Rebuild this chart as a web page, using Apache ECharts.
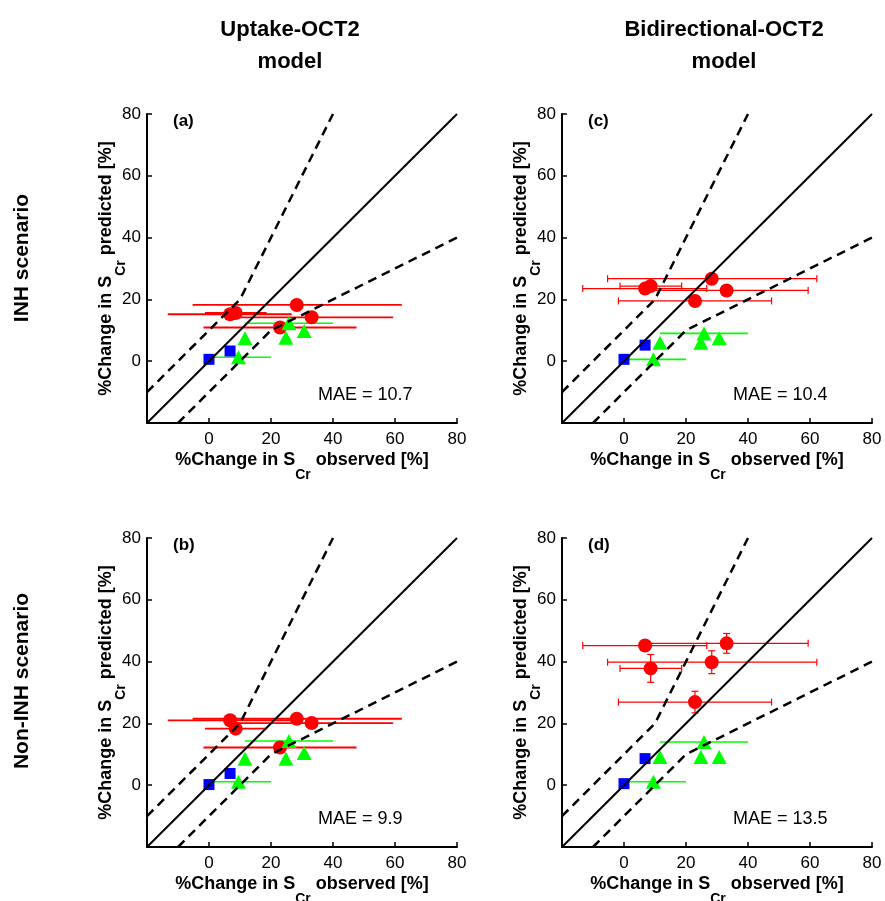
<!DOCTYPE html>
<html><head><meta charset="utf-8">
<script src="https://cdn.jsdelivr.net/npm/echarts@6/dist/echarts.min.js"></script>
<style>html,body{margin:0;padding:0;background:#fff}#c{width:885px;height:901px}</style>
</head><body><div id="c"></div>
<script>
// ---- Data ----
const tickValues = [-20, 0, 20, 40, 60, 80];
const panelLabels = ['(a)', '(b)', '(c)', '(d)'];
const maeLabels = ['MAE = 10.7', 'MAE = 9.9', 'MAE = 10.4', 'MAE = 13.5'];
const columnTitles = ['Uptake-OCT2\nmodel', 'Bidirectional-OCT2\nmodel'];
const rowTitles = ['INH scenario', 'Non-INH scenario'];

// observed (x) values, shared by all panels
const redObsX  = [6.8, 8.6, 22.9, 28.3, 33.1];
const redObsLo = [-13.3, -1.3, -1.8, -5.3, 6.8];
const redObsHi = [26.7, 18.6, 47.6, 62.2, 59.4];
const greenObsX  = [9.5, 11.6, 24.8, 25.8, 30.7];
const greenObsLo = [1.5, 11.6, 24.8, 11.6, 30.7];
const greenObsHi = [20.0, 11.6, 24.8, 40.0, 30.7];
const blueObsX = [0.0, 6.8];

// predicted (y) values per panel a, b, c, d
const redPredA = [15.2, 15.6, 10.9, 18.2, 14.2];
const redPredB = [21.0, 18.3, 12.2, 21.5, 20.1];
const redPredC = [23.5, 24.3, 19.5, 26.7, 22.9];
const redPredD = [45.2, 37.8, 26.9, 39.8, 45.9];
const redPredErrA = [0, 0, 0, 0, 0];
const redPredErrB = [0, 0, 0, 0, 0];
const redPredErrC = [0, 0, 0, 0, 0];
const redPredErrD = [0, 4.5, 3.5, 3.7, 3.2];
const greenPredA = [1.3, 7.4, 7.6, 12.3, 9.8];
const greenPredB = [1.1, 8.6, 8.6, 14.3, 10.4];
const greenPredC = [0.6, 6.0, 6.0, 9.0, 7.4];
const greenPredD = [1.1, 9.1, 9.1, 14.0, 9.1];
const bluePredA = [0.6, 3.3];
const bluePredB = [0.2, 3.8];
const bluePredC = [0.6, 5.2];
const bluePredD = [0.5, 8.6];

// reference lines: identity and limits
const identityLine = [[-20, -20], [80, 80]];
const upperLimit = [[-20, -10], [10, 20], [40, 80]];
const lowerLimit = [[-10, -20], [20, 10], [80, 40]];

// ---- Build chart ----
const FONT = '"Liberation Sans", Arial, Helvetica, sans-serif';
const redPred = [redPredA, redPredB, redPredC, redPredD];
const redPredErr = [redPredErrA, redPredErrB, redPredErrC, redPredErrD];
const greenPred = [greenPredA, greenPredB, greenPredC, greenPredD];
const bluePred = [bluePredA, bluePredB, bluePredC, bluePredD];

const gridBoxes = [
  {left: 147, top: 114, width: 310, height: 309},
  {left: 147, top: 538, width: 310, height: 309},
  {left: 562, top: 114, width: 310, height: 309},
  {left: 562, top: 538, width: 310, height: 309}
];
const barStyle = [
  {w: 1.8, cap: 0}, {w: 1.8, cap: 0}, {w: 1.2, cap: 3.5}, {w: 1.2, cap: 3.5}
];

const richName = {
  b: {fontSize: 18, fontWeight: 'bold', fontFamily: FONT, color: '#000'},
  s: {fontSize: 14, fontWeight: 'bold', fontFamily: FONT, color: '#000', padding: [30, 0, 0, 0]}
};

function axisCommon() {
  return {
    type: 'value', min: tickValues[0], max: tickValues[tickValues.length - 1], interval: 20,
    axisLine: {show: true, onZero: false, lineStyle: {color: '#000', width: 2}},
    axisTick: {show: true, inside: true, length: 5, lineStyle: {color: '#000', width: 1.5}},
    splitLine: {show: false},
    nameLocation: 'middle',
    nameMoveOverlap: false,
    nameTextStyle: {rich: richName}
  };
}

function errItem(color, lw, cap) {
  return function (params, api) {
    const x = api.value(0), y = api.value(1), lo = api.value(2), hi = api.value(3), ye = api.value(4);
    const st = {stroke: color, lineWidth: lw, fill: null};
    const ch = [];
    if (hi > lo) {
      const p1 = api.coord([lo, y]), p2 = api.coord([hi, y]);
      ch.push({type: 'line', shape: {x1: p1[0], y1: p1[1], x2: p2[0], y2: p2[1]}, style: st});
      if (cap > 0) {
        ch.push({type: 'line', shape: {x1: p1[0], y1: p1[1] - cap, x2: p1[0], y2: p1[1] + cap}, style: st});
        ch.push({type: 'line', shape: {x1: p2[0], y1: p2[1] - cap, x2: p2[0], y2: p2[1] + cap}, style: st});
      }
    }
    if (ye > 0) {
      const t = api.coord([x, y + ye]), b = api.coord([x, y - ye]);
      ch.push({type: 'line', shape: {x1: t[0], y1: t[1], x2: b[0], y2: b[1]}, style: st});
      ch.push({type: 'line', shape: {x1: t[0] - cap, y1: t[1], x2: t[0] + cap, y2: t[1]}, style: st});
      ch.push({type: 'line', shape: {x1: b[0] - cap, y1: b[1], x2: b[0] + cap, y2: b[1]}, style: st});
    }
    return {type: 'group', children: ch};
  };
}

const grids = [], xAxes = [], yAxes = [], series = [], graphics = [];
for (let i = 0; i < 4; i++) {
  grids.push(Object.assign({outerBoundsMode: 'none', containLabel: false}, gridBoxes[i]));
  xAxes.push(Object.assign(axisCommon(), {
    gridIndex: i,
    axisLabel: {color: '#000', fontSize: 17, fontFamily: FONT, margin: 8,
      formatter: v => (v === tickValues[0] ? '' : String(v))},
    name: '{b|%Change in S}{s|Cr}{b| observed [%]}',
    nameGap: 15
  }));
  yAxes.push(Object.assign(axisCommon(), {
    gridIndex: i,
    axisLabel: {color: '#000', fontSize: 17, fontFamily: FONT, margin: 6,
      formatter: v => (v === tickValues[0] ? '' : String(v))},
    name: '{b|%Change in S}{s|Cr}{b| predicted [%]}',
    nameGap: 19
  }));
  const ax = {xAxisIndex: i, yAxisIndex: i};
  series.push(Object.assign({type: 'line', data: identityLine, symbol: 'none', silent: true,
    lineStyle: {color: '#000', width: 2}}, ax));
  series.push(Object.assign({type: 'line', data: upperLimit, symbol: 'none', silent: true,
    lineStyle: {color: '#000', width: 2.5, type: [9, 6]}}, ax));
  series.push(Object.assign({type: 'line', data: lowerLimit, symbol: 'none', silent: true,
    lineStyle: {color: '#000', width: 2.5, type: [9, 6]}}, ax));
  series.push(Object.assign({type: 'custom', renderItem: errItem('#ff0000', barStyle[i].w, barStyle[i].cap),
    data: redObsX.map((x, k) => [x, redPred[i][k], redObsLo[k], redObsHi[k], redPredErr[i][k]])}, ax));
  series.push(Object.assign({type: 'scatter', symbol: 'circle', symbolSize: 14,
    itemStyle: {color: '#ff0000', opacity: 1},
    data: redObsX.map((x, k) => [x, redPred[i][k]])}, ax));
  series.push(Object.assign({type: 'custom', renderItem: errItem('#00ff00', 1.6, 0),
    data: greenObsX.map((x, k) => [x, greenPred[i][k], greenObsLo[k], greenObsHi[k], 0])}, ax));
  series.push(Object.assign({type: 'scatter', symbol: 'triangle', symbolSize: [15, 14],
    itemStyle: {color: '#00ff00', opacity: 1},
    data: greenObsX.map((x, k) => [x, greenPred[i][k]])}, ax));
  series.push(Object.assign({type: 'scatter', symbol: 'rect', symbolSize: 11,
    itemStyle: {color: '#0000ff', opacity: 1},
    data: blueObsX.map((x, k) => [x, bluePred[i][k]])}, ax));

  const g = gridBoxes[i];
  graphics.push({type: 'text', x: g.left + 26, y: g.top + 7,
    style: {text: panelLabels[i], fontSize: 17, fontWeight: 'bold', fontFamily: FONT, fill: '#000',
      align: 'left', verticalAlign: 'middle'}});
  graphics.push({type: 'text', x: g.left + 171, y: g.top + 281,
    style: {text: maeLabels[i], fontSize: 18, fontFamily: FONT, fill: '#000',
      align: 'left', verticalAlign: 'middle'}});
}

graphics.push({type: 'text', x: 290, y: 46, style: {text: columnTitles[0], fontSize: 22, fontWeight: 'bold',
  fontFamily: FONT, fill: '#000', align: 'center', verticalAlign: 'middle', lineHeight: 32}});
graphics.push({type: 'text', x: 724, y: 46, style: {text: columnTitles[1], fontSize: 22, fontWeight: 'bold',
  fontFamily: FONT, fill: '#000', align: 'center', verticalAlign: 'middle', lineHeight: 32}});
graphics.push({type: 'text', x: 22, y: 258, rotation: Math.PI / 2, style: {text: rowTitles[0], fontSize: 21,
  fontWeight: 'bold', fontFamily: FONT, fill: '#000', align: 'center', verticalAlign: 'middle'}});
graphics.push({type: 'text', x: 22, y: 681, rotation: Math.PI / 2, style: {text: rowTitles[1], fontSize: 21,
  fontWeight: 'bold', fontFamily: FONT, fill: '#000', align: 'center', verticalAlign: 'middle'}});

const chart = echarts.init(document.getElementById('c'), null, {renderer: 'canvas'});
chart.setOption({
  animation: false,
  backgroundColor: '#fff',
  grid: grids, xAxis: xAxes, yAxis: yAxes, series: series, graphic: graphics
});
</script></body></html>
